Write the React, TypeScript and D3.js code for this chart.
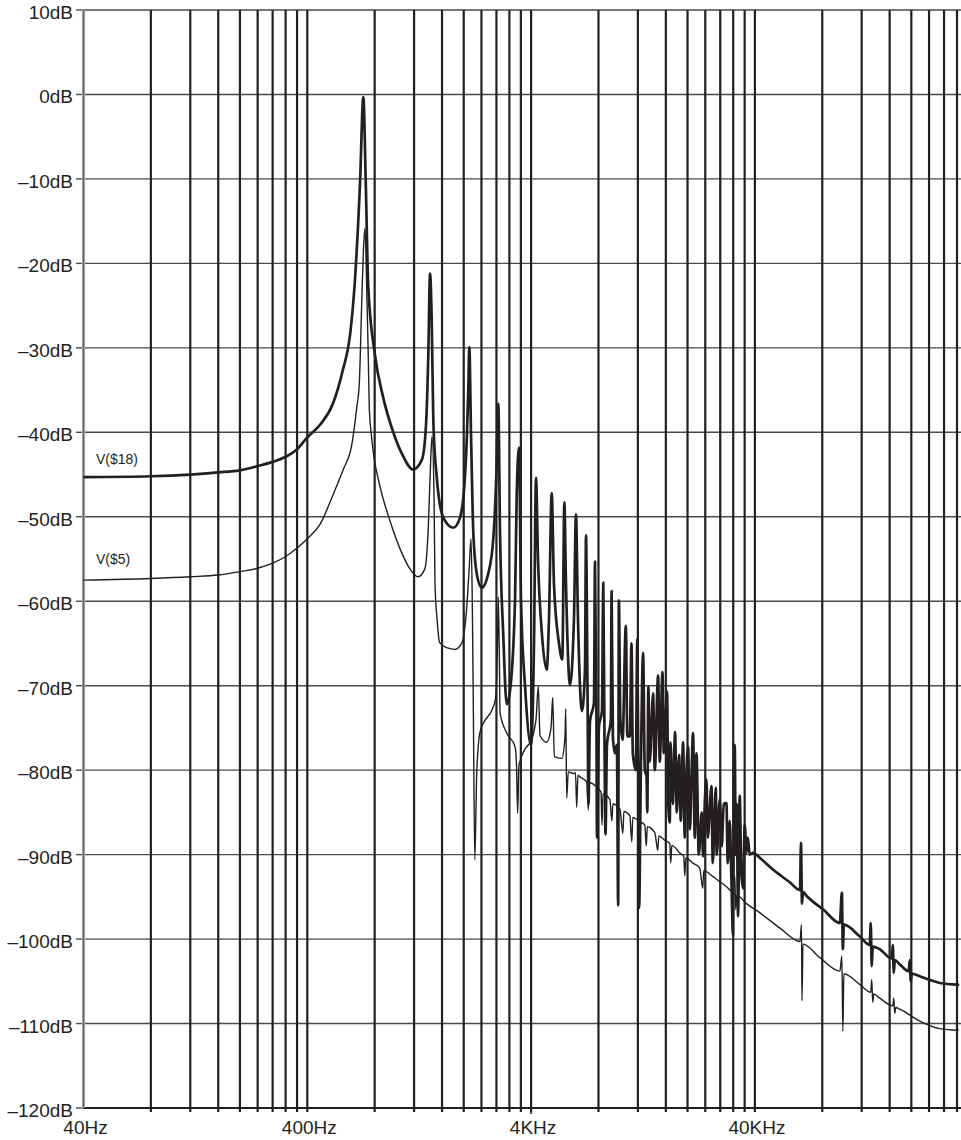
import React from 'react';
import * as d3 from 'd3';

// ---- axis data ----
const yTicks = [10, 0, -10, -20, -30, -40, -50, -60, -70, -80, -90, -100, -110, -120];
const xLabelFreqs = [40, 400, 4000, 40000];
const xLabelTexts = ['40Hz', '400Hz', '4KHz', '40KHz'];
const decadeBases = [40, 400, 4000, 40000];
const gridSteps = [1, 2, 3, 4, 5, 6, 7, 8, 9, 10];

// ---- series V($18) ----
const v18Freq = [
  40, 80, 120, 160, 200, 240, 280, 320, 360, 400, 456, 521, 577, 621, 653, 688, 712, 730, 749, 803,
  872, 966, 1071, 1187, 1302, 1357, 1389, 1414, 1439, 1463, 1514, 1621, 1797, 1925, 2026, 2069, 2096, 2118, 2155, 2207,
  2286, 2406, 2575, 2711, 2808, 2854, 2905, 3005, 3112, 3220, 3390, 3448, 3532, 3606, 3757, 4000, 4121, 4207, 4294, 4475,
  4697, 4809, 4945, 5062, 5330, 5516, 5631, 5728, 5968, 6218, 6346, 6478, 6752, 6964, 7036, 7145, 7219, 7331, 7639, 7718,
  7838, 7878, 8042, 8294, 8406, 8510, 8598, 8732, 9090, 9156, 9278, 9471, 9667, 9797, 9868, 10021, 10251, 10600, 10765, 11044,
  11238, 11389, 11746, 11928, 12052, 12151, 12366, 12662, 12885, 13112, 13221, 13357, 13565, 14033, 14280, 14773, 15034, 15457, 15666, 16206,
  16407, 16663, 16783, 17185, 17596, 17906, 18335, 18658, 19104, 19441, 19642, 20112, 20467, 21176, 21548, 21928, 22452, 23156, 23468, 23880,
  24300, 24628, 25588, 25932, 26744, 27020, 27864, 28440, 29032, 29844, 30244, 30872, 31352, 31944, 32276, 32508, 32844, 33184, 33632, 34224,
  34756, 35404, 36028, 36664, 37156, 37928, 39240, 42156, 48336, 57396, 63608, 64264, 64928, 65600, 68152, 80832, 95876, 97868, 98880, 99900,
  117864, 130376, 131720, 133080, 134456, 144532, 163568, 165256, 166964, 168688, 177632, 194816, 196828, 198860, 200916, 218164, 240000, 268000, 323440,
];
const v18Db = [
  -45.3, -45.2, -45.0, -44.75, -44.5, -44.0, -43.5, -42.9, -42.0, -40.6, -39.1, -36.6, -32.6, -28.5, -22.0, -10.5, -0.3, -10.5, -22.8, -30.9,
  -35.8, -39.9, -42.8, -44.4, -43.2, -39.1, -30.9, -21.2, -26.9, -38.7, -45.2, -50.1, -51.3, -50.1, -45.2, -40, -35.0, -29.9, -40, -51.8,
  -56.7, -58.4, -56.7, -52.6, -43.7, -36.6, -51.8, -64.1, -72.2, -70.6, -59.9, -47.7, -41.8, -59.9, -70, -77, -65, -45.4, -55, -64,
  -68.1, -62, -47.2, -58, -65, -66.9, -48.3, -58, -69.9, -62, -49.7, -62, -73, -68, -52.2, -70, -84, -74.2, -72, -55.3,
  -74, -88, -74.8, -73, -57.8, -76, -87.6, -77, -74, -58.8, -76, -78, -77, -96, -59.9, -74, -76.4, -62.9, -76, -76,
  -65, -78, -80, -64.5, -80, -96.3, -80.5, -66.1, -80, -80.7, -85, -70.1, -79, -70.9, -80, -68.8, -79, -68.4, -78, -70.7,
  -84, -86.2, -76.7, -84, -75.5, -85, -78.2, -86, -76.7, -88, -83, -77.2, -87, -75.6, -88, -78, -90, -85, -90.2, -84,
  -81.1, -88, -81.9, -91, -82.1, -90, -83.5, -89, -84, -83.9, -91, -86, -92, -99.5, -80, -77, -90, -84, -97.3, -83,
  -92, -94, -86.5, -89.8, -88, -90, -89.8, -90.4, -91.8, -93.3, -94.2, -88.6, -95.8, -94.4, -94.9, -96.5, -98.1, -94.5, -101.2, -98.3,
  -99.7, -100.7, -98.1, -103.2, -100.9, -101.2, -102.3, -100.7, -104, -102.5, -103, -103.8, -102.5, -105, -104.1, -104.4, -104.8, -105.2, -105.4,
];

// ---- series V($5) ----
const v5Freq = [
  40, 80, 120, 160, 200, 240, 280, 320, 360, 400, 456, 523, 579, 632, 665, 683, 700, 712, 724, 737,
  749, 757, 771, 789, 845, 937, 1039, 1152, 1250, 1339, 1389, 1424, 1443, 1473, 1488, 1519, 1562, 1679, 1828, 1957,
  2062, 2118, 2155, 2184, 2207, 2241, 2286, 2364, 2489, 2661, 2781, 2831, 2854, 2890, 2905, 3112, 3390, 3438, 3484, 3528,
  3757, 4000, 4207, 4308, 4383, 4697, 4909, 4996, 5080, 5482, 5670, 5712, 5770, 5866, 6174, 6315, 6394, 6478, 6615, 7086,
  7204, 7294, 7854, 8209, 8294, 8380, 8996, 9184, 9278, 9970, 10283, 10389, 11044, 11273, 11389, 12239, 12885, 13085, 13221, 14280,
  14727, 14879, 15828, 16663, 16835, 17009, 18466, 19242, 19441, 19642, 21135, 22680, 23386, 23628, 26012, 27864, 29844, 31848, 32508, 32844,
  33184, 36664, 42156, 51792, 63608, 64596, 64928, 65600, 78100, 95876, 97868, 98880, 99900, 117864, 131720, 133080, 134456, 135844, 144532, 165256,
  166964, 168688, 170432, 177632, 218164, 268000, 323440,
];
const v5Db = [
  -57.5, -57.3, -57.1, -56.9, -56.5, -56.1, -55.5, -54.7, -53.7, -52.6, -50.9, -47.3, -44.4, -41.5, -37.1, -34.2, -24.8, -18.7, -15.8, -22.8,
  -30.9, -37.1, -40.0, -42.4, -46.4, -50.5, -53.8, -56.2, -57.1, -56.2, -51.3, -43.2, -40.5, -47.3, -57.9, -62, -64.9, -65.5, -65.7, -65.0,
  -60.8, -55.9, -52.6, -60, -72.2, -90.6, -80.4, -75.5, -74.1, -73.0, -71.4, -65, -59.5, -68, -73.2, -75.6, -77.2, -79, -85.1, -79.5,
  -77.5, -76.5, -74, -70.1, -75.9, -76.7, -75, -71.4, -78.4, -78.6, -76, -72.7, -83.3, -80.2, -80.4, -80.3, -84.4, -80.6, -80.8, -81.4,
  -84.7, -81.5, -82.0, -82.6, -86.5, -82.8, -83.5, -86.0, -84.0, -84.6, -87.5, -84.9, -85.4, -88.5, -85.6, -86.1, -86.5, -89, -86.7, -87.4,
  -89.5, -87.8, -88.3, -88.7, -91, -88.9, -89.8, -90.2, -92.5, -90.4, -91.0, -91.6, -94, -91.9, -92.6, -93.2, -93.8, -94.4, -92.5, -96.5,
  -94.8, -95.8, -96.9, -98.7, -100.3, -98.3, -107.3, -100.6, -102.2, -103.8, -102, -110.9, -104.1, -105.4, -106.3, -104.8, -107.5, -106.5, -107, -107.9,
  -107, -108.8, -108.1, -108.3, -109.7, -110.6, -110.8,
];

const seriesLabels = ['V($18)', 'V($5)'];

const W = 961;
const H = 1140;
const INK = '#231f20';
const FONT = '"Liberation Sans", Arial, Helvetica, sans-serif';

export default function App() {
  const x = d3.scaleLog().domain([40, 400000]).range([83.5, 978.7]);
  const y = d3.scaleLinear().domain([-120, 10]).range([1108, 10]);
  const left = 83.5;
  const right = 960;
  const top = y(10);
  const bottom = y(-120);

  const gridFreqs: number[] = [];
  decadeBases.forEach((b) => gridSteps.forEach((k) => {
    const f = b * k;
    if (!gridFreqs.includes(f) && f !== 40) gridFreqs.push(f);
  }));

  const line = d3
    .line<[number, number]>()
    .x((d) => x(d[0]))
    .y((d) => y(d[1]))
    .curve(d3.curveMonotoneX);

  const v18 = v18Freq.map((f, i) => [f, v18Db[i]] as [number, number]);
  const v5 = v5Freq.map((f, i) => [f, v5Db[i]] as [number, number]);

  return (
    <svg
      width={W}
      height={H}
      viewBox={`0 0 ${W} ${H}`}
      style={{ position: 'absolute', left: 0, top: 0, background: '#fff' }}
    >
      <defs>
        <clipPath id="plotClip">
          <rect x={left} y={0} width={right - left + 1} height={H} />
        </clipPath>
      </defs>
      <rect x={0} y={0} width={W} height={H} fill="#fff" />

      {/* horizontal gridlines */}
      {yTicks.map((v) => (
        <line key={'h' + v} x1={left} x2={W} y1={y(v)} y2={y(v)} stroke="#4a4a4a" strokeWidth={1.4} />
      ))}
      {/* left ticks */}
      {yTicks.map((v) => (
        <line key={'lt' + v} x1={76} x2={left} y1={y(v)} y2={y(v)} stroke="#4a4a4a" strokeWidth={1.4} />
      ))}

      {/* vertical gridlines */}
      <g clipPath="url(#plotClip)">
        {gridFreqs.map((f) => (
          <line key={'v' + f} x1={x(f)} x2={x(f)} y1={top} y2={bottom + 4} stroke={INK} strokeWidth={2.2} />
        ))}
      </g>

      {/* bottom axis */}
      <line x1={left} x2={W} y1={bottom} y2={bottom} stroke={INK} strokeWidth={2} />
      <line x1={x(4000)} x2={x(4000)} y1={bottom} y2={bottom + 6} stroke={INK} strokeWidth={1.6} />

      {/* left axis */}
      <line x1={left} x2={left} y1={top} y2={bottom} stroke="#9aa2a7" strokeWidth={3.2} />
      <line x1={left} x2={left} y1={top} y2={bottom} stroke="#555" strokeWidth={0.8} />

      {/* series */}
      <g clipPath="url(#plotClip)" fill="none" stroke={INK} strokeLinejoin="round" strokeLinecap="round">
        <path d={line(v5) || ''} strokeWidth={1.4} />
        <path d={line(v18) || ''} strokeWidth={2.7} />
      </g>

      {/* y labels */}
      {yTicks.map((v) => (
        <text key={'yl' + v} x={73} y={y(v) + 9} textAnchor="end" fontFamily={FONT} fontSize={19} fill={INK}>
          {v < 0 ? '\u2013' + Math.abs(v) + 'dB' : v + 'dB'}
        </text>
      ))}

      {/* x labels */}
      {xLabelFreqs.map((f, i) => (
        <text key={'xl' + f} x={x(f) + 2} y={1134} textAnchor="middle" fontFamily={FONT} fontSize={19} fill={INK}>
          {xLabelTexts[i]}
        </text>
      ))}

      {/* series labels */}
      <text x={96} y={464} fontFamily={FONT} fontSize={14} fill={INK}>{seriesLabels[0]}</text>
      <text x={96} y={564} fontFamily={FONT} fontSize={14} fill={INK}>{seriesLabels[1]}</text>
    </svg>
  );
}
